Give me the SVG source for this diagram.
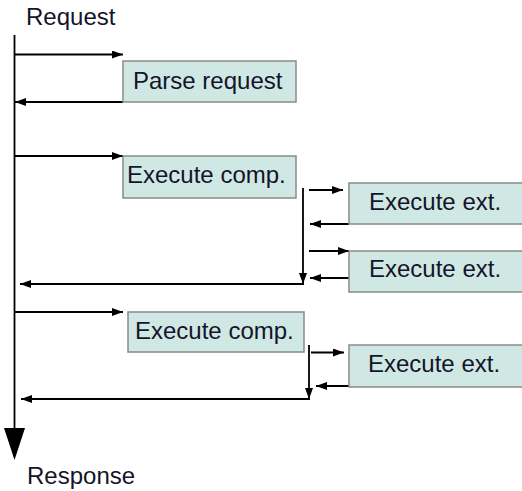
<svg xmlns="http://www.w3.org/2000/svg" width="522" height="491" viewBox="0 0 522 491">
<style>
text{font-family:"Liberation Sans",Arial,sans-serif;font-size:24px;fill:#14142a}
.box{fill:#d0e8e4;stroke:#8a8a8a;stroke-width:1.5}
.c{fill:none;stroke:#000;stroke-width:1.8}
.a{marker-end:url(#ah)}
</style>
<defs>
<marker id="ah" markerUnits="userSpaceOnUse" markerWidth="12" markerHeight="9" refX="11" refY="4" orient="auto">
<path d="M0,0 L11,4 L0,8 z" fill="#000"/>
</marker>
</defs>
<rect width="522" height="491" fill="#fff"/>
<text x="26" y="25">Request</text>
<text x="27" y="484">Response</text>
<g id="connectors">
<path class="c" d="M14.5,35 V430"/>
<polygon points="4,428 25,428 14.5,460" fill="#000"/>
<path class="c a" d="M14.5,54.5 H123"/>
<path class="c a" d="M123,102 H15"/>
<path class="c a" d="M14.5,156 H123"/>
<path class="c a" d="M303,188 V284"/>
<path class="c a" d="M304,284 H20"/>
<path class="c a" d="M309,190 H343"/>
<path class="c a" d="M349,224 H310"/>
<path class="c a" d="M309,251 H349"/>
<path class="c a" d="M349,278 H310"/>
<path class="c a" d="M14.5,312 H123"/>
<path class="c a" d="M309,345 V399"/>
<path class="c a" d="M310,399 H21"/>
<path class="c a" d="M311,352.5 H344"/>
<path class="c a" d="M349,386 H316"/>
</g>
<g id="parse"><rect class="box" x="123" y="61" width="173" height="41"/><text x="133" y="89">Parse request</text></g>
<g id="comp1"><rect class="box" x="123" y="156" width="173" height="42"/><text x="127" y="183">Execute comp.</text></g>
<g id="ext1"><rect class="box" x="349" y="183" width="180" height="41"/><text x="369" y="210">Execute ext.</text></g>
<g id="ext2"><rect class="box" x="349" y="251" width="180" height="41"/><text x="369" y="277">Execute ext.</text></g>
<g id="comp2"><rect class="box" x="128" y="312" width="176" height="40"/><text x="135" y="339">Execute comp.</text></g>
<g id="ext3"><rect class="box" x="349" y="345" width="180" height="42"/><text x="368" y="372">Execute ext.</text></g>
</svg>
